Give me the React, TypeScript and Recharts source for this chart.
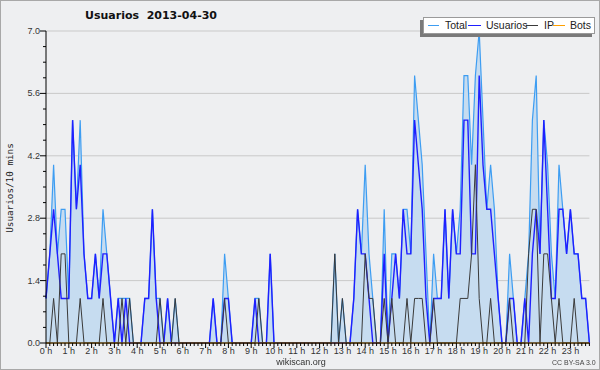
import { Area, CartesianGrid, ComposedChart, Line, XAxis, YAxis } from "recharts";

// 10-minute slots, 2013-04-30 (144 per day)
const total = [
  1, 2, 4, 2, 3, 3, 1, 5, 3, 5, 2, 1,
  1, 2, 1, 3, 2, 1, 0, 1, 1, 1, 1, 0,
  0, 0, 1, 1, 3, 1, 1, 0, 1, 0, 1, 0,
  0, 0, 0, 0, 0, 0, 0, 0, 1, 0, 0, 2,
  1, 0, 0, 0, 0, 0, 0, 1, 1, 0, 0, 2,
  0, 0, 0, 0, 0, 0, 0, 0, 0, 0, 0, 0,
  0, 0, 0, 0, 2, 0, 1, 0, 0, 1, 3, 2,
  4, 2, 1, 0, 0, 3, 0, 2, 2, 1, 3, 3,
  2, 6, 5, 4, 2, 0, 2, 1, 1, 3, 1, 3,
  2, 3, 6, 6, 4, 6, 7, 5, 3, 4, 3, 1,
  0, 0, 2, 1, 0, 0, 1, 2, 5, 6, 2, 5,
  4, 2, 1, 4, 3, 2, 3, 2, 2, 1, 1, 0,
];

const usuarios = [
  1, 2, 3, 2, 1, 1, 1, 5, 3, 4, 2, 1,
  1, 2, 1, 2, 2, 1, 0, 1, 0, 1, 0, 0,
  0, 0, 1, 1, 3, 1, 0, 0, 1, 0, 0, 0,
  0, 0, 0, 0, 0, 0, 0, 0, 1, 0, 0, 1,
  1, 0, 0, 0, 0, 0, 0, 1, 0, 0, 0, 2,
  0, 0, 0, 0, 0, 0, 0, 0, 0, 0, 0, 0,
  0, 0, 0, 0, 0, 0, 0, 0, 0, 1, 3, 2,
  2, 1, 0, 0, 0, 2, 0, 1, 2, 1, 3, 2,
  2, 5, 4, 3, 1, 0, 1, 1, 1, 3, 1, 3,
  2, 2, 5, 5, 2, 2, 6, 4, 3, 3, 2, 1,
  0, 0, 1, 1, 0, 0, 1, 0, 2, 3, 2, 5,
  3, 1, 1, 3, 3, 2, 3, 2, 2, 1, 1, 0,
];

const ip = [
  0, 0, 1, 0, 2, 2, 0, 0, 0, 1, 0, 0,
  0, 0, 0, 1, 0, 0, 0, 0, 1, 0, 1, 0,
  0, 0, 0, 0, 0, 0, 1, 0, 0, 0, 1, 0,
  0, 0, 0, 0, 0, 0, 0, 0, 0, 0, 0, 1,
  0, 0, 0, 0, 0, 0, 0, 0, 1, 0, 0, 0,
  0, 0, 0, 0, 0, 0, 0, 0, 0, 0, 0, 0,
  0, 0, 0, 0, 2, 0, 1, 0, 0, 0, 0, 0,
  2, 1, 1, 0, 0, 1, 0, 1, 0, 0, 0, 1,
  0, 1, 1, 1, 0, 0, 1, 0, 0, 0, 0, 0,
  0, 1, 1, 1, 2, 4, 1, 0, 0, 1, 0, 0,
  0, 0, 1, 0, 0, 0, 0, 2, 3, 3, 0, 2,
  2, 1, 0, 1, 0, 0, 0, 1, 0, 0, 0, 0,
];

const bots = [
  0, 0, 0, 0, 0, 0, 0, 0, 0, 0, 0, 0,
  0, 0, 0, 0, 0, 0, 0, 0, 0, 0, 0, 0,
  0, 0, 0, 0, 0, 0, 0, 0, 0, 0, 0, 0,
  0, 0, 0, 0, 0, 0, 0, 0, 0, 0, 0, 0,
  0, 0, 0, 0, 0, 0, 0, 0, 0, 0, 0, 0,
  0, 0, 0, 0, 0, 0, 0, 0, 0, 0, 0, 0,
  0, 0, 0, 0, 0, 0, 0, 0, 0, 0, 0, 0,
  0, 0, 0, 0, 0, 0, 0, 0, 0, 0, 0, 0,
  0, 0, 0, 0, 0, 0, 0, 0, 0, 0, 0, 0,
  0, 0, 0, 0, 0, 0, 0, 0, 0, 0, 0, 0,
  0, 0, 0, 0, 0, 0, 0, 0, 0, 0, 0, 0,
  0, 0, 0, 0, 0, 0, 0, 0, 0, 0, 0, 0,
];

const hourLabels = [
  "0 h", "1 h", "2 h", "3 h", "4 h", "5 h", "6 h", "7 h", "8 h", "9 h", "10 h", "11 h",
  "12 h", "13 h", "14 h", "15 h", "16 h", "17 h", "18 h", "19 h", "20 h", "21 h", "22 h", "23 h",
];

const yMajor = [0, 1.4, 2.8, 4.2, 5.6, 7.0];

const SLOTS_PER_HOUR = 6;
const MINOR_PER_MAJOR = 4;

const data = total.map((t, i) => ({
  slot: i,
  total: t,
  usuarios: usuarios[i],
  ip: ip[i],
  bots: bots[i],
}));

const xTicks = data.map((d) => d.slot);

const yTicks: number[] = [];
yMajor.forEach((v, k) => {
  yTicks.push(v);
  if (k < yMajor.length - 1) {
    const step = (yMajor[k + 1] - v) / MINOR_PER_MAJOR;
    for (let m = 1; m < MINOR_PER_MAJOR; m++) yTicks.push(v + step * m);
  }
});

const series = [
  { key: "Total", color: "#3d9df2" },
  { key: "Usuarios", color: "#1f1fff" },
  { key: "IP", color: "#3a3a3a" },
  { key: "Bots", color: "#ffa000" },
];

const tickFont = "'Liberation Sans', Arial, sans-serif";

function XTick(props: any) {
  const { x, y, payload } = props;
  const v = payload.value;
  const isHour = v % SLOTS_PER_HOUR === 0;
  return (
    <g>
      <line x1={x} x2={x} y1={y} y2={y + (isHour ? 5 : 3)} stroke="#000" />
      {isHour && (
        <text x={x} y={y + 11} textAnchor="middle" fontSize={9} fontFamily={tickFont} fill="#333">
          {hourLabels[v / SLOTS_PER_HOUR]}
        </text>
      )}
    </g>
  );
}

function YTick(props: any) {
  const { x, y, payload } = props;
  const v = payload.value;
  const isMajor = yMajor.some((m) => Math.abs(m - v) < 1e-6);
  return (
    <g>
      <line x1={x} x2={x - (isMajor ? 6 : 3)} y1={y} y2={y} stroke="#000" />
      {isMajor && (
        <text x={x - 6} y={y + 3} textAnchor="end" fontSize={9} fontFamily={tickFont} fill="#333">
          {v.toFixed(1)}
        </text>
      )}
    </g>
  );
}

function LegendBox() {
  const offsets = [
    { sw: 4, w: 11, tx: 21 },
    { sw: 44, w: 13, tx: 62 },
    { sw: 102, w: 12, tx: 120 },
    { sw: 129, w: 12, tx: 146 },
  ];
  return (
    <div
      style={{
        position: "absolute",
        left: 423,
        top: 17,
        width: 170,
        height: 15,
        background: "#fff",
        border: "1px solid #9a9a9a",
        boxShadow: "-3px 3px 0 #7a7a7a",
        fontFamily: tickFont,
        fontSize: 10.5,
        color: "#222",
      }}
    >
      {series.map((s, i) => (
        <div key={s.key}>
          <div
            style={{
              position: "absolute",
              left: offsets[i].sw,
              top: 7,
              width: offsets[i].w,
              height: 0,
              borderTop: `1.5px solid ${s.color}`,
            }}
          />
          <div style={{ position: "absolute", left: offsets[i].tx, top: 1, lineHeight: "12px" }}>
            {s.key}
          </div>
        </div>
      ))}
    </div>
  );
}

export default function App() {
  return (
    <div
      style={{
        position: "fixed",
        left: 0,
        top: 0,
        width: 600,
        height: 370,
        background: "#eeeff1",
        boxShadow: "inset 0 0 0 1px #a8a8a8",
      }}
    >
      <div
        style={{
          position: "absolute",
          left: 0,
          width: 302,
          top: 9,
          textAlign: "center",
          fontFamily: "'DejaVu Sans', sans-serif",
          fontWeight: "bold",
          fontSize: 11,
          whiteSpace: "pre",
          color: "#111",
        }}
      >
        {"Usuarios  2013-04-30"}
      </div>

      <div
        style={{
          position: "absolute",
          left: 9,
          top: 188,
          transform: "translate(-50%, -50%) rotate(-90deg)",
          fontFamily: "'DejaVu Sans Mono', monospace",
          fontSize: 9.3,
          whiteSpace: "nowrap",
          color: "#222",
        }}
      >
        Usuarios/10 mins
      </div>

      <ComposedChart
        width={600}
        height={370}
        data={data}
        margin={{ top: 31, right: 10.6, bottom: 0, left: 0 }}
      >
        <CartesianGrid
          horizontal={true}
          vertical={false}
          horizontalValues={yMajor}
          stroke="#c9c9c9"
        />
        <Area
          type="linear"
          dataKey="total"
          name="Total"
          stroke="#3d9df2"
          strokeWidth={1.2}
          fill="#c6dcf0"
          fillOpacity={1}
          isAnimationActive={false}
          dot={false}
          activeDot={false}
        />
        <Line
          type="linear"
          dataKey="usuarios"
          name="Usuarios"
          stroke="#1f1fff"
          strokeWidth={1.4}
          dot={false}
          isAnimationActive={false}
        />
        <Line
          type="linear"
          dataKey="ip"
          name="IP"
          stroke="#3a3a3a"
          strokeWidth={1}
          dot={false}
          isAnimationActive={false}
        />
        <Line
          type="linear"
          dataKey="bots"
          name="Bots"
          stroke="#ffa000"
          strokeWidth={1}
          dot={false}
          isAnimationActive={false}
        />
        <XAxis
          type="number"
          dataKey="slot"
          domain={[0, xTicks.length - 1]}
          ticks={xTicks}
          interval={0}
          height={27}
          tickSize={0}
          tickMargin={0}
          tickLine={false}
          axisLine={{ stroke: "#000" }}
          tick={<XTick />}
        />
        <YAxis
          type="number"
          domain={[0, 7]}
          ticks={yTicks}
          interval={0}
          width={46}
          tickSize={0}
          tickMargin={0}
          tickLine={false}
          axisLine={{ stroke: "#000" }}
          tick={<YTick />}
        />
      </ComposedChart>

      <LegendBox />

      <div
        style={{
          position: "absolute",
          left: 0,
          width: 602,
          top: 357,
          lineHeight: "10px",
          textAlign: "center",
          fontFamily: tickFont,
          fontSize: 9,
          color: "#333",
        }}
      >
        wikiscan.org
      </div>
      <div
        style={{
          position: "absolute",
          left: 552,
          top: 359,
          lineHeight: "8px",
          fontFamily: tickFont,
          fontSize: 7,
          color: "#444",
          whiteSpace: "nowrap",
        }}
      >
        CC BY-SA 3.0
      </div>
    </div>
  );
}
